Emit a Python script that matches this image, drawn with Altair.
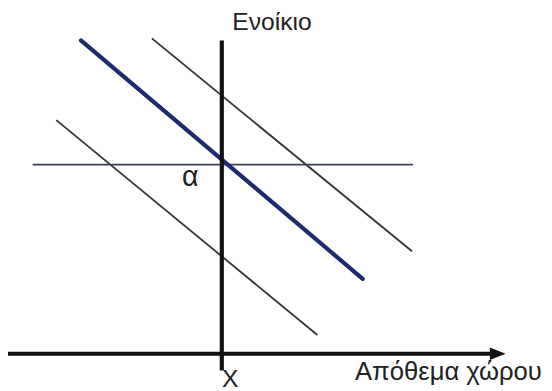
import altair as alt
import pandas as pd

# Conceptual coordinates: x = stock of space, y = rent; the axes cross at (0, 0)
seg_name = ["demand_mid", "demand_high", "demand_low", "rent_level", "x_axis", "y_axis"]
seg_x1 = [-14.3, -7.1, -16.8, -19.2, -21.7, 0.0]
seg_y1 = [31.8, 32.0, 23.7, 19.2, 0.0, 31.8]
seg_x2 = [14.3, 19.3, 9.7, 19.4, 28.0, 0.0]
seg_y2 = [7.6, 10.4, 1.9, 19.2, 0.0, -1.7]

arrow_x = [28.0]
arrow_y = [0.0]

label_text = ["Ενοίκιο", "α", "X", "Απόθεμα χώρου"]
label_x = [5.1, -3.2, 0.85, 23.0]
label_y = [32.9, 17.0, -3.4, -2.7]
label_size = [25, 29, 25, 26]

segs = pd.DataFrame({"name": seg_name, "x1": seg_x1, "y1": seg_y1, "x2": seg_x2, "y2": seg_y2})
arrow = pd.DataFrame({"x": arrow_x, "y": arrow_y})
labels = pd.DataFrame({"text": label_text, "x": label_x, "y": label_y, "size": label_size})

xs = alt.Scale(domain=[-21.7, 32.7], nice=False, zero=False)
ys = alt.Scale(domain=[-3.5, 34.8], nice=False, zero=False)


def rules(names, color, width, cap="butt"):
    return alt.Chart(segs[segs["name"].isin(names)]).mark_rule(
        color=color, strokeWidth=width, strokeCap=cap
    ).encode(
        x=alt.X("x1:Q", scale=xs, axis=None),
        y=alt.Y("y1:Q", scale=ys, axis=None),
        x2="x2:Q",
        y2="y2:Q",
    )


thin = rules(["demand_high", "demand_low"], "#333333", 1.8)
level = rules(["rent_level"], "#3a4258", 1.8)
blue = rules(["demand_mid"], "#1d2a6e", 4.2, "round")
axes = rules(["x_axis", "y_axis"], "#111111", 4.2)

head = alt.Chart(arrow).mark_point(
    shape="M-1,-0.8L1,0L-1,0.8Z", filled=True, color="#111111", opacity=1, size=256
).encode(
    x=alt.X("x:Q", scale=xs, axis=None),
    y=alt.Y("y:Q", scale=ys, axis=None),
)

txt = alt.Chart(labels).mark_text(
    font="Liberation Sans", color="#222222", baseline="alphabetic", align="center"
).encode(
    x=alt.X("x:Q", scale=xs, axis=None),
    y=alt.Y("y:Q", scale=ys, axis=None),
    text="text:N",
    size=alt.Size("size:Q", scale=None, legend=None),
)

chart = alt.layer(thin, level, blue, axes, head, txt).properties(
    width=544, height=383, padding=0, autosize="none"
).configure_view(stroke=None)

chart.save("out.html", embed_options={"renderer": "svg", "actions": False})
